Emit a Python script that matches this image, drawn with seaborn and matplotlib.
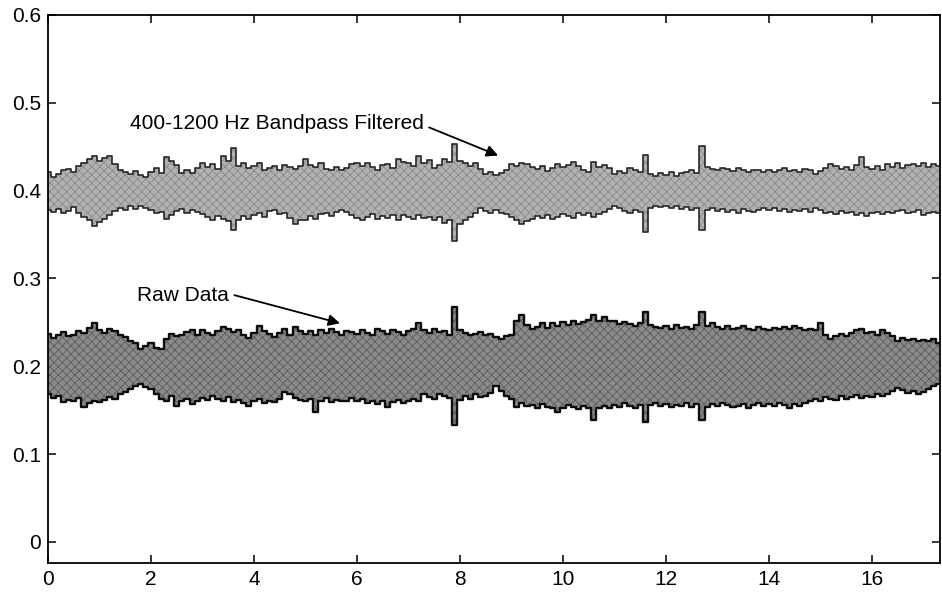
import numpy as np
import pandas as pd
import matplotlib
matplotlib.use("Agg")
import matplotlib.pyplot as plt
import seaborn as sns

# time grid (s), 0.1 s apart
time_start = 0.0
time_step = 0.1
n_samples = 174

bandpass_upper = [
    0.421,0.416,0.419,0.423,0.425,0.421,0.428,0.432,0.436,0.439,
    0.434,0.437,0.440,0.430,0.423,0.421,0.419,0.422,0.418,0.416,
    0.421,0.426,0.420,0.438,0.434,0.429,0.420,0.424,0.420,0.426,
    0.432,0.427,0.430,0.425,0.440,0.434,0.449,0.428,0.431,0.426,
    0.428,0.432,0.424,0.426,0.428,0.423,0.429,0.427,0.425,0.428,
    0.436,0.429,0.427,0.432,0.425,0.424,0.427,0.423,0.426,0.430,
    0.431,0.428,0.432,0.427,0.424,0.429,0.430,0.426,0.436,0.433,
    0.431,0.428,0.440,0.431,0.435,0.426,0.429,0.436,0.433,0.453,
    0.434,0.431,0.428,0.432,0.425,0.419,0.421,0.418,0.420,0.423,
    0.430,0.428,0.431,0.430,0.427,0.425,0.428,0.422,0.426,0.430,
    0.427,0.429,0.433,0.428,0.424,0.421,0.433,0.427,0.429,0.426,
    0.419,0.422,0.420,0.426,0.423,0.421,0.441,0.419,0.417,0.420,
    0.418,0.421,0.417,0.420,0.421,0.423,0.420,0.451,0.427,0.425,
    0.423,0.426,0.425,0.422,0.426,0.424,0.421,0.424,0.423,0.421,
    0.424,0.421,0.423,0.426,0.422,0.424,0.421,0.425,0.423,0.419,
    0.422,0.426,0.430,0.428,0.425,0.427,0.424,0.429,0.438,0.427,
    0.425,0.428,0.424,0.430,0.427,0.431,0.426,0.429,0.430,0.428,
    0.432,0.427,0.430,0.428,
]
bandpass_lower = [
    0.378,0.376,0.379,0.375,0.377,0.381,0.374,0.370,0.366,0.360,
    0.364,0.368,0.372,0.377,0.380,0.378,0.382,0.379,0.383,0.380,
    0.378,0.374,0.376,0.368,0.372,0.377,0.379,0.375,0.378,0.376,
    0.373,0.370,0.366,0.371,0.368,0.365,0.355,0.366,0.371,0.368,
    0.372,0.375,0.370,0.377,0.378,0.373,0.375,0.369,0.362,0.367,
    0.366,0.371,0.368,0.373,0.374,0.371,0.376,0.378,0.376,0.372,
    0.369,0.366,0.370,0.373,0.368,0.371,0.369,0.372,0.367,0.372,
    0.370,0.368,0.372,0.369,0.370,0.366,0.370,0.363,0.366,0.343,
    0.362,0.366,0.370,0.374,0.380,0.377,0.375,0.378,0.375,0.373,
    0.370,0.366,0.362,0.365,0.368,0.371,0.369,0.372,0.368,0.370,
    0.373,0.371,0.369,0.375,0.372,0.374,0.370,0.373,0.376,0.379,
    0.383,0.380,0.377,0.375,0.378,0.376,0.353,0.380,0.383,0.381,
    0.382,0.380,0.383,0.379,0.381,0.378,0.380,0.355,0.378,0.380,
    0.377,0.379,0.376,0.378,0.375,0.379,0.377,0.376,0.378,0.380,
    0.378,0.380,0.377,0.379,0.376,0.378,0.377,0.379,0.376,0.380,
    0.378,0.375,0.376,0.373,0.377,0.374,0.376,0.372,0.375,0.371,
    0.374,0.376,0.373,0.376,0.375,0.377,0.378,0.374,0.376,0.378,
    0.372,0.374,0.376,0.375,
]
raw_upper = [
    0.237,0.232,0.236,0.239,0.234,0.236,0.240,0.238,0.244,0.249,
    0.241,0.238,0.243,0.240,0.236,0.233,0.229,0.226,0.220,0.223,
    0.226,0.221,0.220,0.231,0.237,0.234,0.236,0.239,0.241,0.236,
    0.241,0.238,0.236,0.240,0.245,0.242,0.239,0.241,0.236,0.232,
    0.238,0.246,0.240,0.237,0.233,0.238,0.242,0.236,0.245,0.240,
    0.237,0.240,0.236,0.241,0.238,0.243,0.239,0.236,0.240,0.239,
    0.237,0.241,0.238,0.236,0.243,0.240,0.237,0.241,0.239,0.236,
    0.240,0.243,0.249,0.241,0.238,0.242,0.239,0.240,0.236,0.267,
    0.241,0.238,0.236,0.237,0.239,0.236,0.237,0.233,0.231,0.234,
    0.236,0.252,0.258,0.247,0.243,0.245,0.249,0.244,0.249,0.246,
    0.250,0.247,0.252,0.248,0.250,0.253,0.258,0.251,0.256,0.252,
    0.251,0.248,0.250,0.248,0.246,0.249,0.262,0.247,0.245,0.244,
    0.246,0.243,0.247,0.244,0.245,0.242,0.247,0.262,0.246,0.249,
    0.245,0.243,0.246,0.242,0.244,0.246,0.243,0.241,0.245,0.243,
    0.241,0.244,0.242,0.245,0.243,0.246,0.244,0.241,0.243,0.241,
    0.249,0.236,0.231,0.235,0.237,0.234,0.238,0.241,0.243,0.238,
    0.239,0.236,0.241,0.238,0.235,0.229,0.232,0.230,0.231,0.229,
    0.230,0.229,0.231,0.227,
]
raw_lower = [
    0.169,0.164,0.166,0.159,0.162,0.160,0.164,0.154,0.158,0.160,
    0.159,0.162,0.165,0.163,0.169,0.171,0.174,0.177,0.180,0.176,
    0.174,0.168,0.163,0.161,0.166,0.155,0.160,0.163,0.157,0.160,
    0.164,0.162,0.166,0.163,0.160,0.165,0.159,0.162,0.158,0.155,
    0.160,0.163,0.158,0.161,0.159,0.163,0.171,0.168,0.164,0.162,
    0.160,0.163,0.148,0.161,0.164,0.159,0.162,0.160,0.161,0.164,
    0.160,0.163,0.158,0.161,0.157,0.160,0.154,0.159,0.162,0.158,
    0.161,0.163,0.160,0.168,0.165,0.163,0.169,0.166,0.164,0.133,
    0.162,0.166,0.163,0.168,0.165,0.166,0.170,0.178,0.172,0.166,
    0.163,0.154,0.158,0.155,0.156,0.152,0.157,0.154,0.153,0.148,
    0.152,0.156,0.154,0.151,0.155,0.153,0.139,0.152,0.155,0.152,
    0.156,0.154,0.158,0.155,0.153,0.156,0.137,0.156,0.158,0.155,
    0.157,0.154,0.156,0.155,0.158,0.154,0.157,0.139,0.154,0.157,
    0.155,0.158,0.156,0.154,0.155,0.157,0.153,0.156,0.158,0.155,
    0.157,0.155,0.158,0.156,0.153,0.157,0.155,0.158,0.160,0.163,
    0.161,0.165,0.163,0.162,0.166,0.163,0.165,0.167,0.164,0.166,
    0.165,0.168,0.166,0.169,0.172,0.175,0.173,0.170,0.172,0.169,
    0.171,0.174,0.177,0.180,
]

x_ticks = [0, 2, 4, 6, 8, 10, 12, 14, 16]
y_ticks = [0, 0.1, 0.2, 0.3, 0.4, 0.5, 0.6]
y_tick_labels = ["0", "0.1", "0.2", "0.3", "0.4", "0.5", "0.6"]

label_bandpass = "400-1200 Hz Bandpass Filtered"
label_raw = "Raw Data"

t = time_start + time_step * np.arange(n_samples)
df = pd.DataFrame({"t": t, "bu": bandpass_upper, "bl": bandpass_lower,
                   "ru": raw_upper, "rl": raw_lower})

sns.set_style("ticks")
plt.rcParams["font.family"] = ["Liberation Sans", "DejaVu Sans"]
plt.rcParams["text.color"] = "black"
plt.rcParams["hatch.linewidth"] = 0.6

fig = plt.figure(figsize=(9.42, 5.97), dpi=100)
ax = fig.add_axes([48/942, 1 - 563/597, 892/942, 548/597])

# bandpass band
ax.fill_between(df["t"], df["bl"], df["bu"], step="mid", facecolor="#b2b2b2",
                edgecolor="#8a8a8a", hatch="xxxx", lw=0)
# raw band
ax.fill_between(df["t"], df["rl"], df["ru"], step="mid", facecolor="#8a8a8a",
                edgecolor="#5c5c5c", hatch="xxxx", lw=0)

for col, c, w in [("bu", "#262626", 1.2), ("bl", "#262626", 1.2),
                  ("ru", "#0d0d0d", 1.7), ("rl", "#0d0d0d", 1.7)]:
    sns.lineplot(data=df, x="t", y=col, ax=ax, color=c, lw=w,
                 drawstyle="steps-mid", estimator=None)

ax.set_xlim(0, 17.32)
ax.set_ylim(-0.024, 0.6)
ax.set_xticks(x_ticks)
ax.set_xticklabels([str(v) for v in x_ticks])
ax.set_yticks(y_ticks)
ax.set_yticklabels(y_tick_labels)
ax.set_xlabel("")
ax.set_ylabel("")
ax.tick_params(direction="in", length=6, width=1.1, top=True, right=True,
               labelsize=15, colors="black", pad=5)
for s in ax.spines.values():
    s.set_visible(True)
    s.set_color("black")
    s.set_linewidth(1.3)

arrow = dict(arrowstyle="-|>", color="black", lw=1.3, mutation_scale=17,
             shrinkA=0, shrinkB=0)
ax.text(1.59, 0.477, label_bandpass, fontsize=15, va="center", ha="left",
        color="black")
ax.annotate("", xy=(8.74, 0.440), xytext=(7.40, 0.472), arrowprops=arrow)
ax.text(1.73, 0.281, label_raw, fontsize=15, va="center", ha="left",
        color="black")
ax.annotate("", xy=(5.67, 0.249), xytext=(3.62, 0.281), arrowprops=arrow)

fig.savefig("out.png", dpi=100)
